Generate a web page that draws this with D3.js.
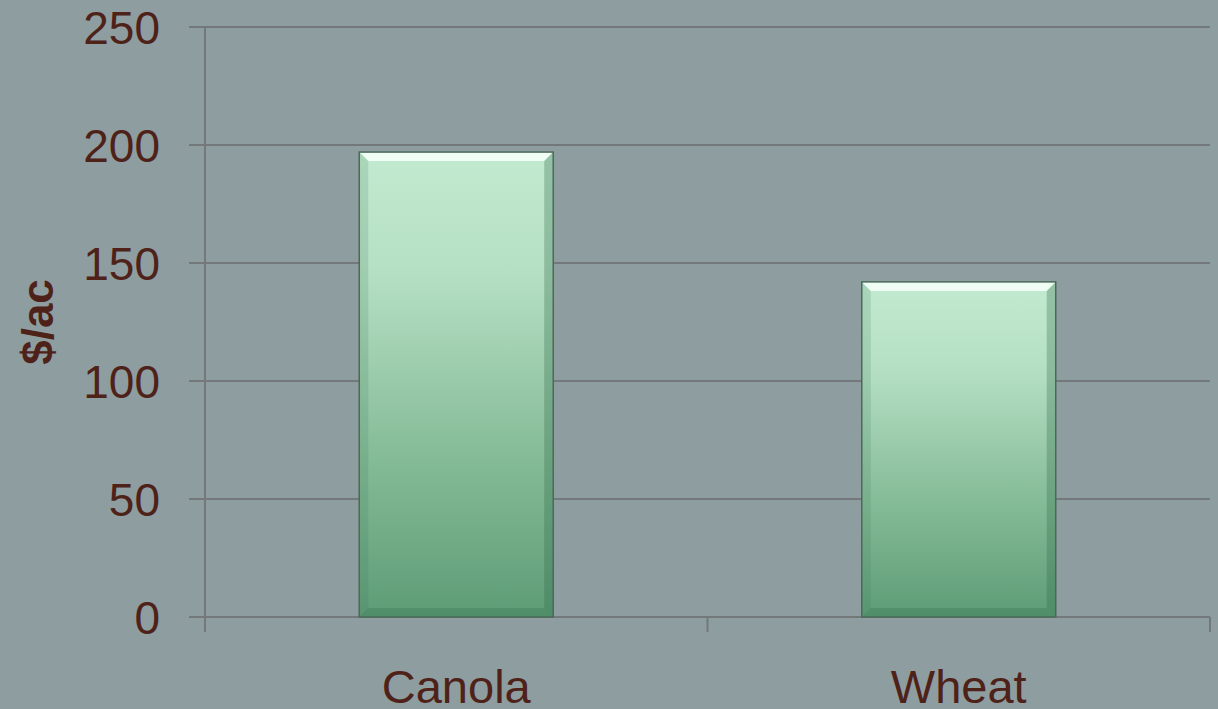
<!DOCTYPE html>
<html><head><meta charset="utf-8">
<script src="https://cdn.jsdelivr.net/npm/d3@7"></script>
<style>html,body{margin:0;padding:0;background:#8e9da0;}svg{display:block;}</style>
</head><body>
<svg id="chart" width="1218" height="709"></svg>
<script>
const categories = ["Canola", "Wheat"];
const values = [197, 142];
const yTicks = [0, 50, 100, 150, 200, 250];
const yLabel = "$/ac";

(function () {
const W = 1218, H = 709;
const mLeft = 205, mRight = 1210, mTop = 27, mBottom = 617;
const svg = d3.select("#chart");
const textColor = "#4e2218";
const font = "Liberation Sans, Arial, sans-serif";

svg.append("rect").attr("width", W).attr("height", H).attr("fill", "#8e9da0");

const x = d3.scaleBand().domain(categories).range([mLeft, mRight]).padding(0);
const y = d3.scaleLinear().domain([0, 250]).range([mBottom, mTop]);

// gridlines
svg.append("g").selectAll("line").data(yTicks).join("line")
  .attr("x1", 189).attr("x2", mRight).attr("y1", d => y(d)).attr("y2", d => y(d))
  .attr("stroke", "#73787a").attr("stroke-width", 2);

// y axis line
svg.append("line").attr("x1", mLeft).attr("x2", mLeft).attr("y1", mTop).attr("y2", mBottom + 15)
  .attr("stroke", "#73787a").attr("stroke-width", 2);
// x ticks
const xBounds = [mLeft, ...categories.map(c => x(c) + x.bandwidth())];
svg.append("g").selectAll("line").data(xBounds).join("line")
  .attr("x1", d => d).attr("x2", d => d).attr("y1", mBottom).attr("y2", mBottom + 15)
  .attr("stroke", "#73787a").attr("stroke-width", 2);

// tick labels
svg.append("g").selectAll("text").data(yTicks).join("text")
  .attr("x", 160).attr("y", d => y(d)).attr("dy", "0.36em")
  .attr("text-anchor", "end").attr("font-family", font).attr("font-size", 46)
  .attr("fill", textColor).text(d => d);

// category labels
svg.append("g").selectAll("text").data(categories).join("text")
  .attr("x", d => x(d) + x.bandwidth() / 2).attr("y", 703)
  .attr("text-anchor", "middle").attr("font-family", font).attr("font-size", 47)
  .attr("fill", textColor).text(d => d);

// y label
svg.append("text").attr("transform", "translate(53,322) rotate(-90)")
  .attr("text-anchor", "middle").attr("font-family", font).attr("font-size", 44)
  .attr("font-weight", "bold").attr("fill", textColor).text(yLabel);

// gradient
const defs = svg.append("defs");
const grad = defs.append("linearGradient").attr("id", "barGrad")
  .attr("x1", 0).attr("y1", 0).attr("x2", 0).attr("y2", 1);
grad.append("stop").attr("offset", "0%").attr("stop-color", "#c2ead0");
grad.append("stop").attr("offset", "25%").attr("stop-color", "#b6e0c4");
grad.append("stop").attr("offset", "65%").attr("stop-color", "#86bc98");
grad.append("stop").attr("offset", "100%").attr("stop-color", "#5d9c76");

const barFrac = 0.386;
const bars = categories.map((c, i) => {
  const bw = x.bandwidth() * barFrac;
  const x0 = x(c) + (x.bandwidth() - bw) / 2;
  return {x0, x1: x0 + bw, y0: y(values[i]), y1: y(0)};
});

const bg = svg.append("g");
bars.forEach(b => {
  const bv = 9;
  bg.append("rect").attr("x", b.x0).attr("y", b.y0).attr("width", b.x1 - b.x0).attr("height", b.y1 - b.y0)
    .attr("fill", "url(#barGrad)");
  bg.append("polygon").attr("points", [[b.x0, b.y0], [b.x1, b.y0], [b.x1 - bv, b.y0 + bv], [b.x0 + bv, b.y0 + bv]].join(" "))
    .attr("fill", "#f4fff8").attr("opacity", 0.9);
  bg.append("polygon").attr("points", [[b.x0, b.y0], [b.x0 + bv, b.y0 + bv], [b.x0 + bv, b.y1 - bv], [b.x0, b.y1]].join(" "))
    .attr("fill", "#3f7a58").attr("opacity", 0.18);
  bg.append("polygon").attr("points", [[b.x1, b.y0], [b.x1 - bv, b.y0 + bv], [b.x1 - bv, b.y1 - bv], [b.x1, b.y1]].join(" "))
    .attr("fill", "#2f6646").attr("opacity", 0.3);
  bg.append("polygon").attr("points", [[b.x0, b.y1], [b.x0 + bv, b.y1 - bv], [b.x1 - bv, b.y1 - bv], [b.x1, b.y1]].join(" "))
    .attr("fill", "#3a7452").attr("opacity", 0.35);
  bg.append("rect").attr("x", b.x0).attr("y", b.y0).attr("width", b.x1 - b.x0).attr("height", b.y1 - b.y0)
    .attr("fill", "none").attr("stroke", "#4a6a58").attr("stroke-width", 1.5);
});
})();
</script>
</body></html>
